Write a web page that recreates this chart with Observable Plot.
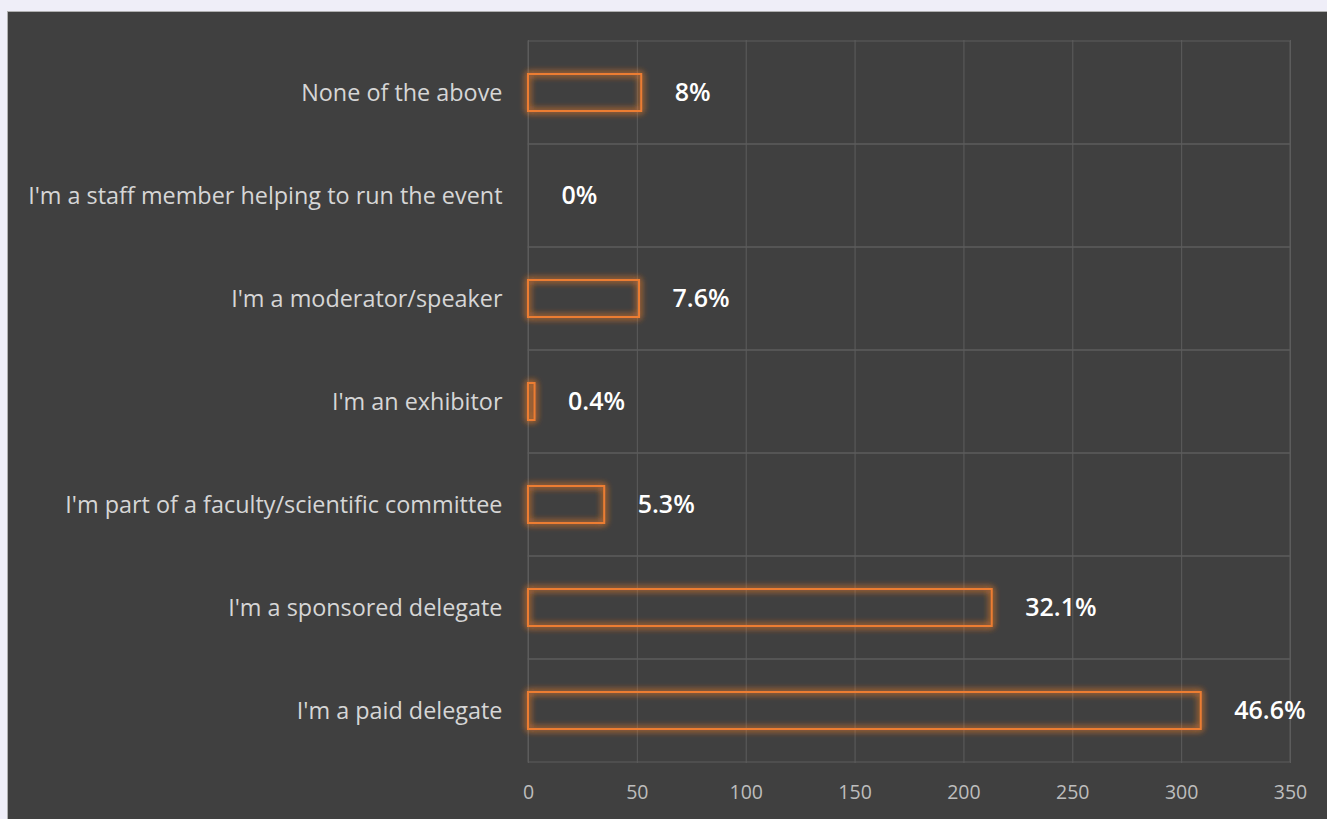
<!DOCTYPE html>
<html>
<head>
<meta charset="utf-8">
<script src="https://cdn.jsdelivr.net/npm/d3@7"></script>
<script src="https://cdn.jsdelivr.net/npm/@observablehq/plot@0.6"></script>
<style>
  html, body { margin: 0; padding: 0; background: #efeef8; width: 1327px; height: 819px; overflow: hidden; }
  #panel { position: absolute; left: 7px; top: 11px; width: 1320px; height: 808px; background: #404040; border-left: 1px solid #b0b0b0; border-top: 1px solid #b0b0b0; box-sizing: border-box; }
  #panel svg { display: block; }
</style>
</head>
<body>
<div id="panel"></div>
<script>
const categories = [
  "None of the above",
  "I'm a staff member helping to run the event",
  "I'm a moderator/speaker",
  "I'm an exhibitor",
  "I'm part of a faculty/scientific committee",
  "I'm a sponsored delegate",
  "I'm a paid delegate"
];
const counts = [52, 0, 51, 3, 35, 213, 309];
const percentLabels = ["8%", "0%", "7.6%", "0.4%", "5.3%", "32.1%", "46.6%"];
const xTicks = [0, 50, 100, 150, 200, 250, 300, 350];

const data = categories.map((c, i) => ({category: c, count: counts[i], label: percentLabels[i]}));

const chart = Plot.plot({
  width: 1319,
  height: 807,
  marginLeft: 520,
  marginRight: 37,
  marginTop: 28,
  marginBottom: 56,
  style: {background: "transparent", fontFamily: "'Open Sans', sans-serif", overflow: "visible"},
  x: {domain: [0, 350], ticks: xTicks, label: null},
  y: {domain: categories, padding: 0, label: null},
  marks: [
    Plot.gridX(xTicks, {stroke: "#5c5c5c", strokeOpacity: 1, strokeWidth: 1}),
    Plot.barX(categories, {y: d => d, x1: 0, x2: 350, fill: "none", stroke: "#5c5c5c", strokeWidth: 1}),
    Plot.barX(data, {y: "category", x: "count", fill: "none", stroke: "#ec7d31", strokeWidth: 2, insetTop: 33, insetBottom: 33}),
    Plot.text(data, {y: "category", x: "count", text: "label", textAnchor: "start", dx: 33, fill: "#ffffff", fontSize: 25, fontWeight: 600}),
    Plot.axisY({tickSize: 0, tickPadding: 26, fontSize: 23.4, color: "#d6d6d6", label: null}),
    Plot.axisX({ticks: xTicks, tickSize: 0, tickPadding: 22, fontSize: 19.5, color: "#bdbdbd", label: null})
  ]
});

const svg = d3.select(chart);
const defs = svg.insert("defs", ":first-child");
const f = defs.append("filter").attr("id", "glow").attr("filterUnits", "userSpaceOnUse")
  .attr("x", 0).attr("y", 0).attr("width", 1319).attr("height", 807);
f.append("feGaussianBlur").attr("in", "SourceGraphic").attr("stdDeviation", 3.5).attr("result", "blur");
const m = f.append("feMerge");
m.append("feMergeNode").attr("in", "blur");
m.append("feMergeNode").attr("in", "blur");
m.append("feMergeNode").attr("in", "SourceGraphic");
svg.selectAll("g").filter(function() { return this.getAttribute("stroke") === "#ec7d31"; }).attr("filter", "url(#glow)");

document.getElementById("panel").appendChild(chart);
</script>
</body>
</html>
